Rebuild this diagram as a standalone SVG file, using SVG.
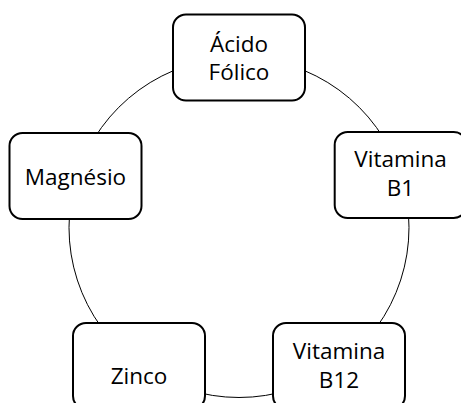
<svg xmlns="http://www.w3.org/2000/svg" width="461" height="403" viewBox="0 0 461 403">
<style>
.box{fill:#fff;stroke:#000;stroke-width:2}
.arc{fill:none;stroke:#000;stroke-width:1}
text{font-family:"Open Sans","Liberation Sans",sans-serif;font-size:22.5px;fill:#000;text-anchor:middle}
</style>
<rect width="461" height="403" fill="#fff"/>
<g id="connectors">
<path class="arc" d="M239,57.5 A170,170 0 0 1 400.68,174.97"/>
<path class="arc" d="M400.68,174.97 A170,170 0 0 1 338.92,365.03"/>
<path class="arc" d="M338.92,365.03 A170,170 0 0 1 139.08,365.03"/>
<path class="arc" d="M139.08,365.03 A170,170 0 0 1 77.32,174.97"/>
<path class="arc" d="M77.32,174.97 A170,170 0 0 1 239,57.5"/>
</g>
<g id="acido-folico">
<rect class="box" x="173" y="14.5" width="132" height="86" rx="13"/>
<text x="239" y="51.5">Ácido</text>
<text x="239" y="79.5">Fólico</text>
</g>
<g id="vitamina-b1">
<rect class="box" x="334.7" y="132" width="132" height="86" rx="13"/>
<text x="400.5" y="167">Vitamina</text>
<text x="400.5" y="196">B1</text>
</g>
<g id="vitamina-b12">
<rect class="box" x="273" y="323" width="132" height="86" rx="13"/>
<text x="339" y="358.5">Vitamina</text>
<text x="339" y="388">B12</text>
</g>
<g id="zinco">
<rect class="box" x="73" y="323" width="132" height="86" rx="13"/>
<text x="139" y="383.5">Zinco</text>
</g>
<g id="magnesio">
<rect class="box" x="9.5" y="133" width="132" height="86" rx="13"/>
<text x="75.5" y="184.5">Magnésio</text>
</g>
</svg>
